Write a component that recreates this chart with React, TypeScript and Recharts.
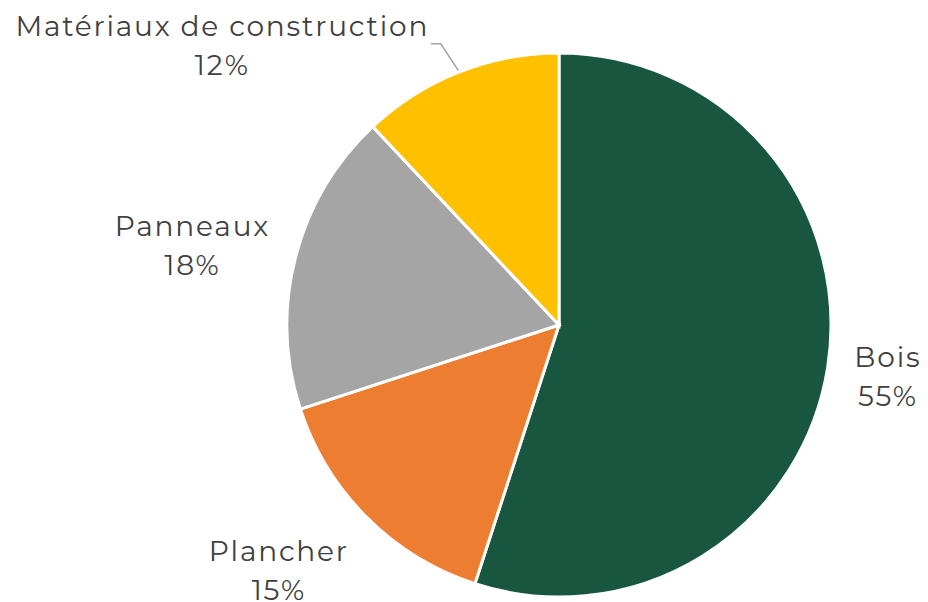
import { PieChart, Pie, Cell } from "recharts";

const categories = ["Bois", "Plancher", "Panneaux", "Matériaux de construction"];
const shares = [55, 15, 18, 12];
const COLORS = ["#185640", "#ED7D31", "#A5A5A5", "#FFC000"];

// label placement: extra radius beyond the slice and angle shift (deg) from the slice middle
const LABEL_PLACE = [
  { extra: 61, shift: 0, leader: false },
  { extra: 101, shift: -3.7, leader: false },
  { extra: 103, shift: 2.25, leader: false },
  { extra: 165, shift: 28.8, leader: true },
];

const data = categories.map((name, i) => ({ name, value: shares[i] }));

const RAD = Math.PI / 180;
const FONT = "Montserrat, 'Open Sans', sans-serif";

function polar(cx: number, cy: number, r: number, deg: number) {
  return { x: cx + r * Math.cos(deg * RAD), y: cy - r * Math.sin(deg * RAD) };
}

function renderLabel(props: any) {
  const { cx, cy, midAngle, outerRadius, index, name, value } = props;
  const place = LABEL_PLACE[index];
  const p = polar(cx, cy, outerRadius + place.extra, midAngle + place.shift);
  let leader = null;
  if (place.leader) {
    const a = polar(cx, cy, outerRadius + 2, midAngle);
    const b = polar(cx, cy, outerRadius + 33, midAngle + 1.2);
    leader = (
      <polyline
        points={`${a.x},${a.y} ${b.x},${b.y} ${b.x - 10},${b.y}`}
        fill="none"
        stroke="#A6A6A6"
        strokeWidth={1.5}
      />
    );
  }
  const textStyle = {
    textAnchor: "middle" as const,
    fill: "#404040",
    fontSize: 28,
    fontFamily: FONT,
    letterSpacing: 1.8,
  };
  return (
    <g key={`lbl-${index}`}>
      {leader}
      <text x={p.x} y={p.y - 10} {...textStyle}>
        {name}
      </text>
      <text x={p.x} y={p.y + 29} {...textStyle}>
        {`${value}%`}
      </text>
    </g>
  );
}

export default function App() {
  return (
    <div style={{ position: "absolute", left: 0, top: 0, background: "#fff" }}>
      <PieChart
        width={928}
        height={602}
        margin={{ top: 0, right: 0, bottom: 0, left: 0 }}
      >
        <Pie
          data={data}
          dataKey="value"
          nameKey="name"
          cx={559}
          cy={325}
          outerRadius={272}
          startAngle={90}
          endAngle={-270}
          stroke="#ffffff"
          strokeWidth={3}
          label={renderLabel}
          labelLine={false}
          isAnimationActive={false}
        >
          {data.map((d, i) => (
            <Cell key={d.name} fill={COLORS[i]} />
          ))}
        </Pie>
      </PieChart>
    </div>
  );
}
